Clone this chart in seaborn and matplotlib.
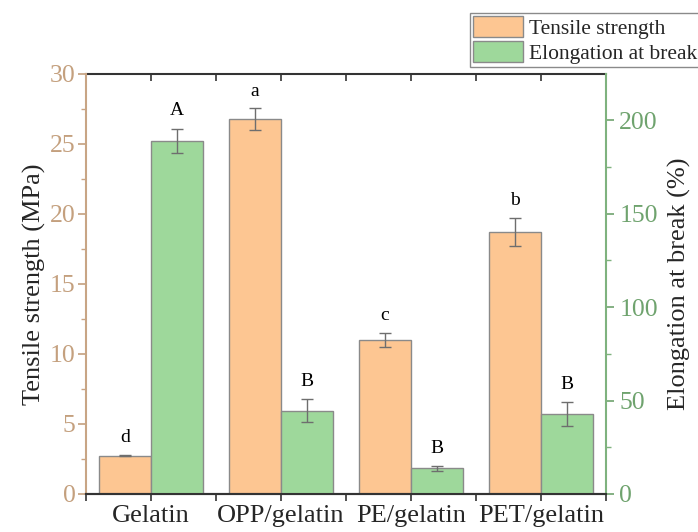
import matplotlib
matplotlib.use("Agg")
import matplotlib.pyplot as plt
import seaborn as sns
import pandas as pd
from matplotlib.patches import Patch

categories = ["Gelatin", "OPP/gelatin", "PE/gelatin", "PET/gelatin"]
tensile = [2.75, 26.8, 11.0, 18.75]
tensile_err = [0.06, 0.77, 0.5, 1.0]
tensile_letters = ["d", "a", "c", "b"]
elong = [188.9, 44.5, 13.7, 42.6]
elong_err = [6.5, 6.2, 1.2, 6.4]
elong_letters = ["A", "B", "B", "B"]
series = ["Tensile strength", "Elongation at break"]

ORANGE = "#FDC692"
GREEN = "#9ED89B"
TAN = "#C4A07E"
TAN_SPINE = "#C8A585"
GREEN_TXT = "#6FA36E"
GREEN_SPINE = "#7FB27E"

sns.set_style("ticks")
plt.rcParams["font.family"] = ["Liberation Serif", "DejaVu Serif"]

df_ts = pd.DataFrame({"sample": categories, "value": tensile, "measure": series[0]})
df_eb = pd.DataFrame({"sample": categories, "value": elong, "measure": series[1]})

fig = plt.figure(figsize=(6.98, 5.32), dpi=100)
ax = fig.add_axes([86 / 698, 1 - 494 / 532, (606 - 86) / 698, (494 - 74) / 532])
ax2 = ax.twinx()

pal = {series[0]: ORANGE, series[1]: GREEN}
common = dict(x="sample", y="value", hue="measure", hue_order=series, order=categories,
              palette=pal, errorbar=None, width=0.8, dodge=True, saturation=1,
              edgecolor="#8a8a8a", linewidth=1.0, legend=False)
sns.barplot(data=df_ts, ax=ax, **common)
sns.barplot(data=df_eb, ax=ax2, **common)

def centers(a):
    ps = [p for p in a.patches if p.get_height() > 0]
    ps = sorted(ps, key=lambda p: p.get_x())
    return [p.get_x() + p.get_width() / 2 for p in ps]

xs_ts = centers(ax)
xs_eb = centers(ax2)

ekw = dict(fmt="none", ecolor="#6e6e6e", elinewidth=1.0, capsize=4, capthick=1.0)
ax.errorbar(xs_ts, tensile, yerr=tensile_err, **ekw)
ax2.errorbar(xs_eb, elong, yerr=elong_err, **ekw)

for x, v, e, t in zip(xs_ts, tensile, tensile_err, tensile_letters):
    ax.annotate(t, (x, v + e), xytext=(0, 9), textcoords="offset points",
                ha="center", va="baseline", fontsize=14, color="black")
for x, v, e, t in zip(xs_eb, elong, elong_err, elong_letters):
    ax2.annotate(t, (x, v + e), xytext=(0, 9.5), textcoords="offset points",
                 ha="center", va="baseline", fontsize=14, color="black")

ax.set_xlim(-0.5, 3.5)
ax.set_ylim(0, 30)
ax2.set_ylim(0, 224.6)

ax.set_yticks([0, 5, 10, 15, 20, 25, 30])
ax.set_yticks([2.5, 7.5, 12.5, 17.5, 22.5, 27.5], minor=True)
ax2.set_yticks([0, 50, 100, 150, 200])
ax2.set_yticks([25, 75, 125, 175], minor=True)

ax.set_xticks(range(4))
ax.set_xticklabels(categories)
ax.set_xticks([-0.5, 0.5, 1.5, 2.5, 3.5], minor=True)

ax.set_xlabel("")
ax.set_ylabel("Tensile strength (MPa)", fontsize=19, labelpad=3)
ax2.set_ylabel("Elongation at break (%)", fontsize=19, labelpad=7)

ax.tick_params(axis="x", which="both", direction="out", length=5, width=1.2,
               color="#333333", labelsize=19, pad=3)
ax.tick_params(axis="y", which="major", direction="out", length=5.5, width=1.2,
               colors=TAN, labelsize=18.5, pad=2)
ax.tick_params(axis="y", which="minor", direction="out", length=3.5, width=1.0,
               color=TAN_SPINE)
ax2.tick_params(axis="y", which="major", direction="out", length=5.5, width=1.2,
                colors=GREEN_TXT, labelsize=18.5, pad=4)
ax2.tick_params(axis="y", which="minor", direction="out", length=3.5, width=1.0,
                color=GREEN_SPINE)
for lab in ax.get_yticklabels():
    lab.set_color(TAN)
for lab in ax2.get_yticklabels():
    lab.set_color(GREEN_TXT)

top = ax.secondary_xaxis("top")
top.set_xticks(range(4))
top.set_xticks([-0.5, 0.5, 1.5, 2.5, 3.5], minor=True)
top.tick_params(axis="x", which="both", direction="in", length=5, width=1.2,
                color="#333333", labeltop=False)
top.spines["top"].set_color("#333333")
top.spines["top"].set_linewidth(1.5)

for a in (ax, ax2):
    a.spines["bottom"].set_color("#333333")
    a.spines["bottom"].set_linewidth(1.5)
    a.spines["top"].set_visible(False)
ax.spines["left"].set_color(TAN_SPINE)
ax.spines["left"].set_linewidth(1.5)
ax2.spines["left"].set_visible(False)
ax2.spines["right"].set_color(GREEN_SPINE)
ax2.spines["right"].set_linewidth(1.5)
ax.spines["right"].set_visible(False)

handles = [Patch(facecolor=ORANGE, edgecolor="#8a8a8a", linewidth=1.0, label=series[0]),
           Patch(facecolor=GREEN, edgecolor="#8a8a8a", linewidth=1.0, label=series[1])]
leg = fig.legend(handles=handles, loc="upper left", bbox_to_anchor=(470 / 698, 1 - 13 / 532),
                 bbox_transform=fig.transFigure, fontsize=15.5, frameon=True, fancybox=False,
                 edgecolor="#8a8a8a", framealpha=1, borderpad=0.15, labelspacing=0.12,
                 handlelength=2.3, handleheight=1.1, handletextpad=0.3, borderaxespad=0)
leg.get_frame().set_linewidth(1.0)

fig.savefig("out.png", dpi=100)
